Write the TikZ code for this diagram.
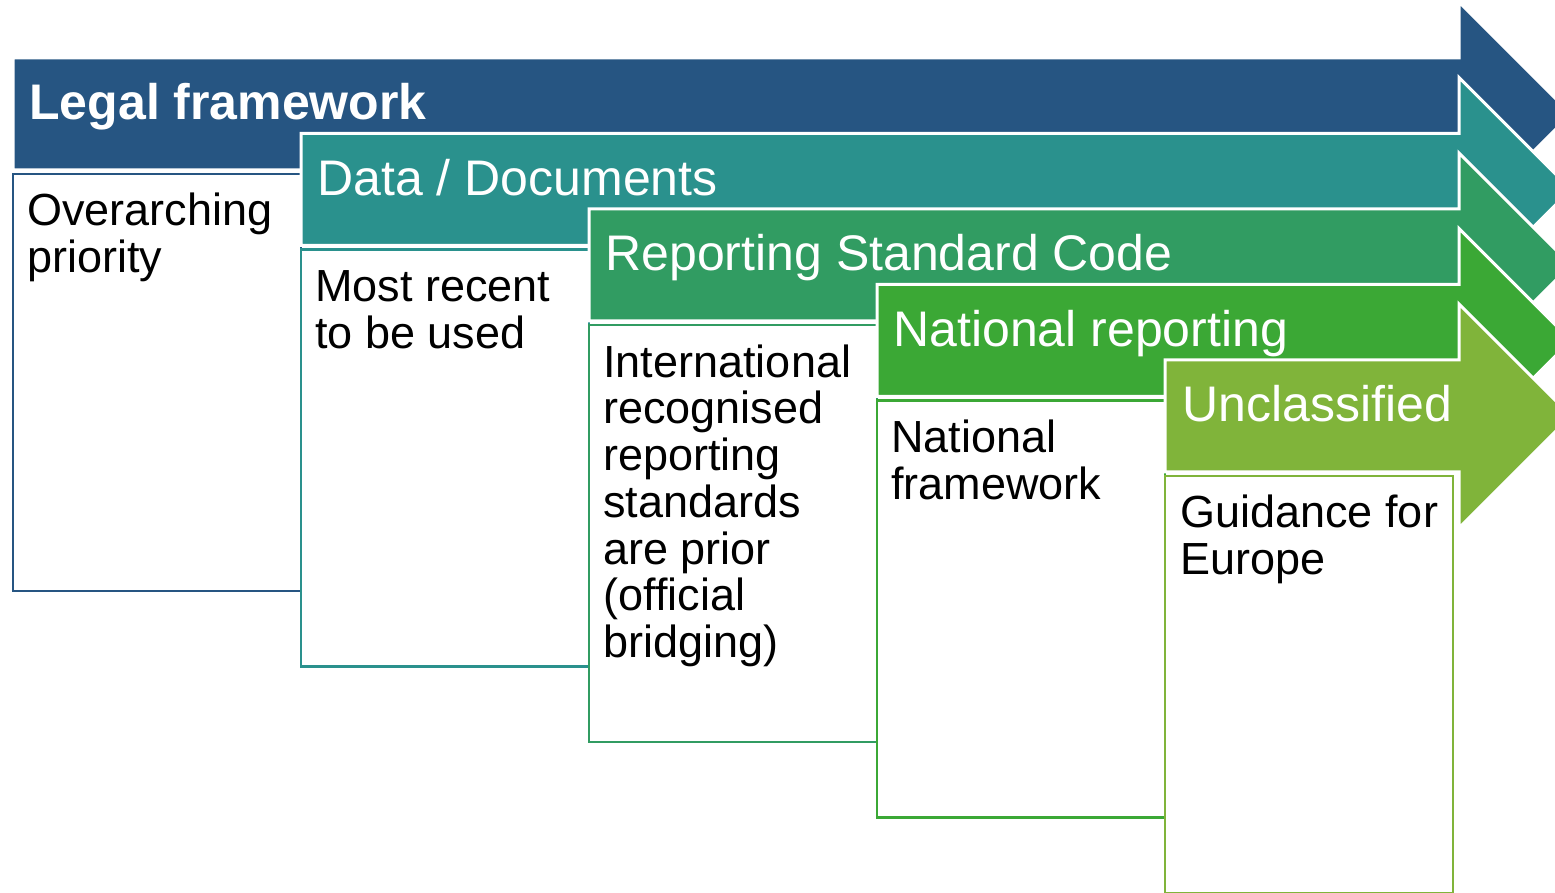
\documentclass[tikz,border=0pt]{standalone}
\usepackage{fontspec}
\setmainfont{Liberation Sans}
\usepackage{tikz}
\definecolor{legalblue}{HTML}{265582}
\definecolor{datateal}{HTML}{2A918D}
\definecolor{codegreen}{HTML}{319C62}
\definecolor{natgreen}{HTML}{3BA835}
\definecolor{unclgreen}{HTML}{80B43A}
% arrow band: colour, left x, top y
\newcommand{\stagearrow}[3]{%
\fill[#1, draw=white, line width=1.5pt] (#2,#3) -- (1459,#3) -- (1459,{#3-56}) -- (1571,{#3+56})
  -- (1459,{#3+168}) -- (1459,{#3+112}) -- (#2,{#3+112}) -- cycle;}
% box under a band: colour, left x, top y of band, right x
\newcommand{\stagebox}[4]{%
\draw[#1, line width=1.25pt, fill=white] (#2,{#3+116}) rectangle (#4,{#3+533});}

\begin{document}
\begin{tikzpicture}[x=0.5pt, y=-0.5pt,
			header/.style = {anchor=base west, inner sep=0pt, text=white, font=\fontsize{25}{30}\selectfont},
			body/.style = {anchor=base west, inner sep=0pt, align=left, font=\fontsize{22.5}{23.4}\selectfont},
		]
		\clip (0,0) rectangle (1555,893);

		% base of a body text is its last line
		\stagearrow{legalblue}{13}{58}
		\stagebox{legalblue}{13}{58}{301}
		\node[header, font=\fontsize{25}{30}\selectfont\bfseries](legal) at (29,120){Legal framework};
		\node[body](legaltext) at (27,272.8){Overarching\\priority};

		\stagearrow{datateal}{301}{133.5}
		\stagebox{datateal}{301}{133.5}{589}
		\node[header](data) at (317,195.5){Data / Documents};
		\node[body](datatext) at (315,348.3){Most recent\\to be used};

		\stagearrow{codegreen}{589}{209}
		\stagebox{codegreen}{589}{209}{877}
		\node[header](code) at (605,271){Reporting Standard Code};
		\node[body](codetext) at (603,657.8){International\\recognised\\reporting\\standards\\are prior\\(official\\bridging)};

		\stagearrow{natgreen}{877}{284.5}
		\stagebox{natgreen}{877}{284.5}{1165}
		\node[header](national) at (893,346.5){National reporting};
		\node[body](nationaltext) at (891,499.3){National\\framework};

		\stagearrow{unclgreen}{1165}{360}
		\stagebox{unclgreen}{1165}{360}{1453}
		\node[header](uncl) at (1182,422){Unclassified};
		\node[body](uncltext) at (1180,574.8){Guidance for\\Europe};

	\end{tikzpicture}
\end{document}
